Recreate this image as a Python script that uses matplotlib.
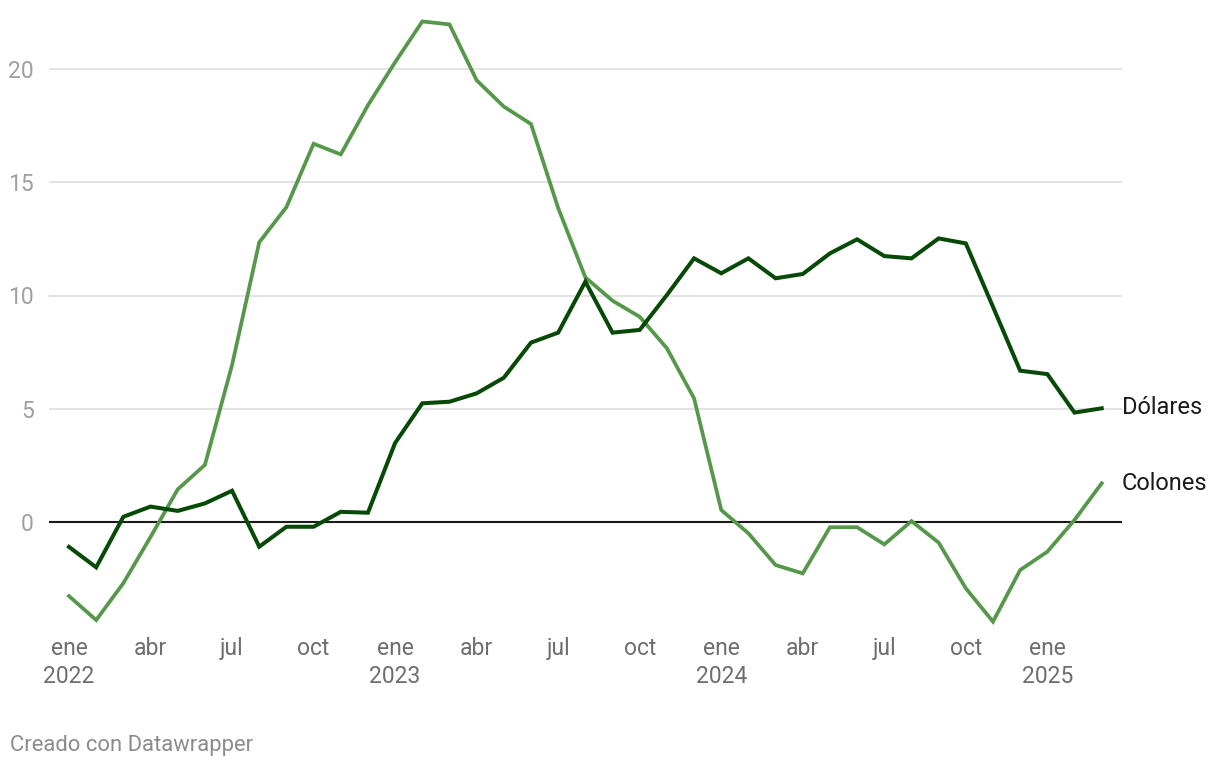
import matplotlib
matplotlib.use("Agg")
import matplotlib.pyplot as plt

plt.rcParams['font.family'] = ['Roboto', 'DejaVu Sans']

months = list(range(39))
dolares = [-1.1, -2.0, 0.23, 0.68, 0.49, 0.82, 1.38, -1.09, -0.21, -0.21, 0.45, 0.41,
           3.49, 5.24, 5.31, 5.68, 6.37, 7.92, 8.36, 10.61, 8.36, 8.48, 10.02, 11.64,
           10.98, 11.64, 10.76, 10.95, 11.86, 12.48, 11.74, 11.64, 12.52, 12.3, 9.5, 6.68,
           6.53, 4.83, 5.02]
colones = [-3.27, -4.33, -2.7, -0.66, 1.44, 2.52, 6.93, 12.35, 13.9, 16.7, 16.23, 18.4,
           20.3, 22.1, 21.97, 19.5, 18.34, 17.57, 13.86, 10.8, 9.77, 9.06, 7.67, 5.46,
           0.53, -0.5, -1.9, -2.27, -0.23, -0.23, -0.99, 0.04, -0.91, -2.93, -4.4, -2.12,
           -1.31, 0.09, 1.71]
xtick_pos = [0, 3, 6, 9, 12, 15, 18, 21, 24, 27, 30, 33, 36]
xtick_labels = ["ene\n2022", "abr", "jul", "oct", "ene\n2023", "abr", "jul", "oct",
                "ene\n2024", "abr", "jul", "oct", "ene\n2025"]
yticks = [0, 5, 10, 15, 20]

W, H = 1220, 768
fig = plt.figure(figsize=(W / 100, H / 100), dpi=100)
ax_l, ax_r, ax_t, ax_b = 49, 1122, 10, 630
ax = fig.add_axes([ax_l / W, 1 - ax_b / H, (ax_r - ax_l) / W, (ax_b - ax_t) / H])

px_month = (1101.7 - 69) / 38
ax.set_xlim(-(69 - ax_l) / px_month, 38 + (ax_r - 1101.7) / px_month)
px_unit = (522 - 69) / 20
ax.set_ylim(-(ax_b - 522) / px_unit, 20 + (69 - ax_t) / px_unit)

for y in yticks[1:]:
    ax.axhline(y, color='#e3e3e3', lw=1.4, zorder=1)
ax.axhline(0, color='#1a1a1a', lw=1.5, zorder=2)

dark = '#074a07'
light = '#56984a'
ax.plot(months, colones, color=light, lw=2.7, zorder=3, solid_joinstyle='miter')
ax.plot(months, dolares, color=dark, lw=2.9, zorder=4, solid_joinstyle='miter')

for s in ax.spines.values():
    s.set_visible(False)
ax.set_yticks(yticks)
ax.set_yticklabels([str(v) for v in yticks])
ax.tick_params(axis='y', length=0, pad=11, labelsize=16.5, labelcolor='#a0a0a0')
ax.set_xticks(xtick_pos)
ax.set_xticklabels(xtick_labels, linespacing=1.3)
ax.tick_params(axis='x', length=0, pad=5, labelsize=16.5, labelcolor='#6e6e6e')

fig.text(1122 / W, 1 - 408 / H, "Dólares", fontsize=17, color='#1a1a1a', va='center', ha='left')
fig.text(1122 / W, 1 - 484 / H, "Colones", fontsize=17, color='#1a1a1a', va='center', ha='left')
fig.text(10 / W, 1 - 745 / H, "Creado con Datawrapper", fontsize=15.8, color='#8c8c8c', va='center', ha='left')

fig.savefig("out.png", dpi=100)
